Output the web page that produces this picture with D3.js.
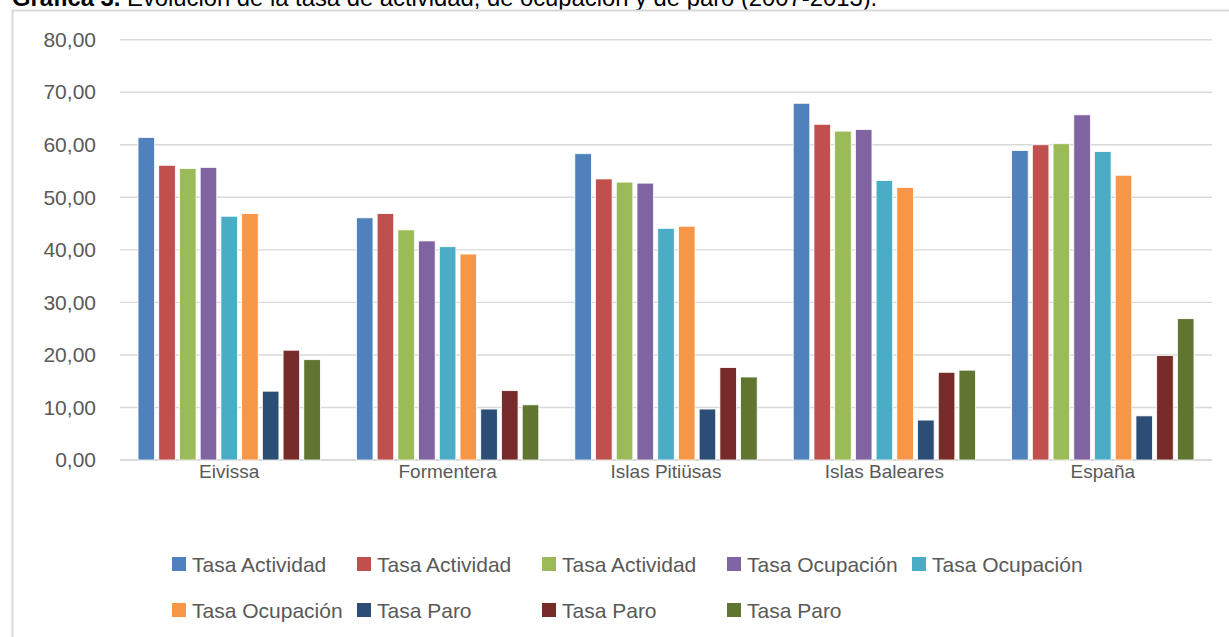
<!DOCTYPE html>
<meta charset="utf-8">
<style>
body { margin: 0; background: #fff; }
svg { display: block; font-family: "Liberation Sans", Arial, sans-serif; }
.tick text { fill: #595959; }
</style>
<svg width="1229" height="637"></svg>
<script src="https://cdn.jsdelivr.net/npm/d3@7"></script>
<script>

var categories = ["Eivissa", "Formentera", "Islas Pitiüsas", "Islas Baleares", "España"];
var seriesNames = ["Tasa Actividad", "Tasa Actividad", "Tasa Actividad", "Tasa Ocupación", "Tasa Ocupación",
                   "Tasa Ocupación", "Tasa Paro", "Tasa Paro", "Tasa Paro"];
var seriesColors = ["#4f81bd", "#c0504d", "#9bbb59", "#8064a2", "#4bacc6", "#f79646", "#2c4d75", "#772c2a", "#5f7530"];

// one array per series, values per category
var actividad1 = [61.4, 46.1, 58.3, 67.9, 58.9];
var actividad2 = [56.1, 46.9, 53.5, 63.9, 60.0];
var actividad3 = [55.5, 43.8, 52.9, 62.6, 60.2];
var ocupacion1 = [55.7, 41.7, 52.7, 62.9, 65.7];
var ocupacion2 = [46.4, 40.6, 44.1, 53.2, 58.7];
var ocupacion3 = [46.9, 39.2, 44.5, 51.9, 54.2];
var paro1 = [13.1, 9.7, 9.7, 7.6, 8.4];
var paro2 = [20.9, 13.2, 17.6, 16.7, 19.9];
var paro3 = [19.1, 10.5, 15.8, 17.1, 26.9];
var seriesValues = [actividad1, actividad2, actividad3, ocupacion1, ocupacion2, ocupacion3, paro1, paro2, paro3];
var yTicks = [0, 10, 20, 30, 40, 50, 60, 70, 80];

var svg = d3.select("svg");

// title, cut off at the top of the page
var title = svg.append("text")
    .attr("x", 12)
    .attr("y", 6)
    .attr("font-size", 20)
    .attr("fill", "#000");
title.append("tspan").attr("font-weight", "bold").text("Gráfica 3.");
title.append("tspan").text(" Evolución de la tasa de actividad, de ocupación y de paro (2007-2013).");
var titleLen = title.node().getComputedTextLength();
title.attr("font-size", 20 * 866 / titleLen);

// chart frame
svg.append("rect")
    .attr("x", 12.5).attr("y", 10.5)
    .attr("width", 1240).attr("height", 660)
    .attr("fill", "none")
    .attr("stroke", "#d9d9d9")
    .attr("stroke-width", 2);

var plotLeft = 120, plotRight = 1212, plotTop = 39.7, plotBottom = 460;

var x0 = d3.scaleBand().domain(categories).range([plotLeft, plotRight]).paddingInner(0.165).paddingOuter(0.0825);
var x1 = d3.scaleBand().domain(d3.range(seriesNames.length)).range([0, x0.bandwidth()]).paddingInner(0.2).paddingOuter(0);
var y = d3.scaleLinear().domain([0, 80]).range([plotBottom, plotTop]);

// gridlines
svg.append("g")
  .selectAll("line")
  .data(yTicks)
  .enter().append("line")
    .attr("x1", plotLeft).attr("x2", plotRight)
    .attr("y1", function(d) { return y(d); })
    .attr("y2", function(d) { return y(d); })
    .attr("stroke", "#d9d9d9")
    .attr("stroke-width", function(d) { return d === 0 ? 2 : 1.4; });

// y axis labels
var yAxis = svg.append("g")
    .attr("transform", "translate(" + plotLeft + ",0)")
    .call(d3.axisLeft(y).tickValues(yTicks).tickSize(0).tickPadding(24)
      .tickFormat(function(d) { return d3.format(".2f")(d).replace(".", ","); }));
yAxis.select(".domain").remove();
yAxis.selectAll("text").attr("font-size", 21).attr("font-family", "Liberation Sans, Arial, sans-serif");

// x axis labels
var xAxis = svg.append("g")
    .attr("transform", "translate(0," + plotBottom + ")")
    .call(d3.axisBottom(x0).tickSize(0).tickPadding(5));
xAxis.select(".domain").remove();
xAxis.selectAll("text").attr("font-size", 19).attr("font-family", "Liberation Sans, Arial, sans-serif");

// bars
var groups = svg.append("g")
  .selectAll("g")
  .data(categories)
  .enter().append("g")
    .attr("transform", function(d) { return "translate(" + x0(d) + ",0)"; });

groups.selectAll("rect")
  .data(function(c, ci) { return seriesValues.map(function(vals, si) { return {s: si, v: vals[ci]}; }); })
  .enter().append("rect")
    .attr("x", function(d) { return x1(d.s); })
    .attr("y", function(d) { return y(d.v); })
    .attr("width", x1.bandwidth())
    .attr("height", function(d) { return y(0) - y(d.v); })
    .attr("fill", function(d) { return seriesColors[d.s]; })
    .attr("stroke", "#fff")
    .attr("stroke-width", 0.8);

// legend: two rows, flowing items
var legendRows = [[0, 1, 2, 3, 4], [5, 6, 7, 8]];
var rowY = [564, 610];
var legend = svg.append("g");
legendRows.forEach(function(row, ri) {
  var lx = 172;
  row.forEach(function(si) {
    var item = legend.append("g").attr("transform", "translate(" + lx + "," + rowY[ri] + ")");
    item.append("rect")
        .attr("x", 0).attr("y", -7)
        .attr("width", 14).attr("height", 14)
        .attr("fill", seriesColors[si]);
    var t = item.append("text")
        .attr("x", 20).attr("y", 7.5)
        .attr("font-size", 21)
        .attr("fill", "#595959")
        .text(seriesNames[si]);
    var w = t.node().getComputedTextLength();
    lx = Math.max(lx + 185, lx + 20 + w + 13);
  });
});

</script>
